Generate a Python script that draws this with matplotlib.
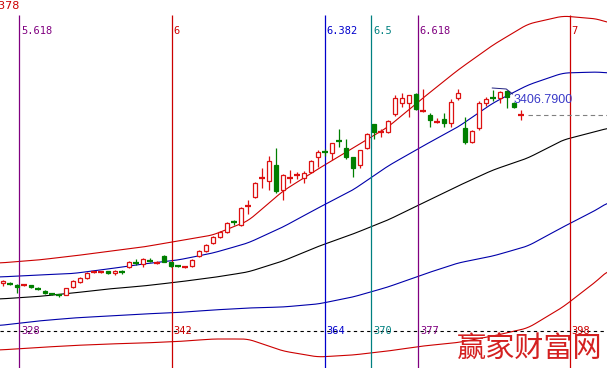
import matplotlib
matplotlib.use("Agg")
from matplotlib import pyplot as plt
import numpy as np

# candle data (chart units, one entry per bar)
opens = [85, 85, 83, 83, 83, 80, 77, 74, 73, 73, 81, 86, 90, 96, 96, 97, 95, 97, 101, 106,
         104, 108, 105, 112, 106, 102, 101, 102, 112, 117, 125, 131, 136, 147, 143, 162, 171, 190, 187, 203,
         178, 189.5, 192.5, 190, 196, 211, 216, 215, 228, 220, 211, 203, 220, 244, 235.5, 236, 254, 265, 265, 274,
         257, 253, 246, 249, 245, 270, 240, 226, 240, 265, 271, 270, 277, 265, 252.5]
highs = [88, 86, 84, 84, 83, 81, 78, 75, 74, 80, 88, 91, 96, 97, 97, 97.5, 98, 98, 107, 109,
         110, 110, 107, 113, 106, 103, 102.5, 109, 118, 124, 132, 137, 146, 148, 161, 168, 186, 200, 212, 220,
         194, 198, 196, 197, 208, 218, 219, 225, 239, 229, 211, 218, 235, 244, 239, 248, 273, 275, 273, 275,
         279, 255, 250, 255, 269, 279, 251, 238, 267, 271, 278, 277, 278, 266, 258]
lows = [82, 83, 75, 82, 80, 78, 74, 73, 71, 73, 80, 85, 89, 95, 95.5, 94.5, 93, 94, 100, 103,
        101, 106, 104, 106, 101, 101, 100, 101, 111, 116, 124, 130, 135, 143, 142, 154, 170, 180, 178, 175,
        168, 185, 189, 185, 195, 201, 212, 208, 221, 209, 191, 200, 219, 229, 231, 235, 252, 261, 251, 258,
        256, 241, 245, 241, 241, 268, 224, 225, 238, 262, 267, 265, 260, 260, 248]
closes = [87, 84, 81, 84, 81, 79, 75, 73.5, 72.5, 80, 87, 90, 95, 96.5, 96.5, 95, 97, 96, 106, 105,
          109, 107, 106, 106, 102, 101.5, 102, 108, 117, 123, 131, 136, 145, 146, 160, 163, 185, 191, 207, 177,
          193, 190, 193, 195, 207, 216, 215.5, 225, 227, 211, 200, 218, 234, 236, 236, 247, 270, 270, 273, 259,
          258, 248, 247, 245, 266, 275, 226, 237, 265, 269, 270, 276, 271, 261, 253]

# envelope lines, sampled every 5 bars
band_x = [-0.5, 5, 10, 15, 20, 25, 30, 35, 40, 45, 50, 55, 60, 65, 70, 75, 80, 85, 86.5]
upper_red = [105, 108, 112, 116.5, 121, 127, 133, 147, 177, 199, 220, 241, 270, 298, 323, 344, 352, 349, 345]
upper_blue = [91, 93, 94.5, 99, 104, 108, 115, 125, 141, 160, 178, 202, 222, 241, 265, 283, 295, 296, 295]
middle = [69, 71.5, 75, 79, 82, 86, 90.5, 96, 107, 121.5, 134, 148, 165, 182, 198, 210, 228, 237, 240]
lower_blue = [42.5, 47, 50, 52, 54, 55.5, 58, 60, 61, 64, 71, 81, 93.5, 105, 112, 122, 141, 159, 166]
lower_red = [18, 20.5, 22.5, 24, 25, 26.5, 29, 29, 17, 11, 13, 17, 22, 25.5, 32, 40, 61, 88, 98]

# time lines
fib_pos = [2.3, 24.1, 46, 52.6, 59.3, 81]
fib_top = ["5.618", "6", "6.382", "6.5", "6.618", "7"]
fib_bottom = ["328", "342", "364", "370", "377", "398"]
fib_colors = ["#800080", "#cc0000", "#0000cc", "#008080", "#800080", "#cc0000"]

last_price = "3406.7900"
RED = "#dd1111"
GREEN = "#007f00"


# soften the corners of the sampled lines
def smooth(xs, ys, win=9):
    fine = np.linspace(xs[0], xs[-1], 400)
    vals = np.interp(fine, xs, ys)
    pad = win // 2
    padded = np.concatenate([np.full(pad, vals[0]), vals, np.full(pad, vals[-1])])
    kernel = np.ones(win) / win
    return fine, np.convolve(padded, kernel, mode="valid")


fig = plt.figure(figsize=(6.07, 3.68), dpi=100)
ax = fig.add_axes([0, 0, 1, 1])
ax.set_xlim(-0.43, 86.29)
ax.set_ylim(0, 368)
ax.axis("off")

# bands
for ys, col in [(upper_red, "#cc0000"), (upper_blue, "#0000aa"), (middle, "black"),
                (lower_blue, "#0000aa"), (lower_red, "#cc0000")]:
    fx, fy = smooth(band_x, ys)
    ax.plot(fx, fy, color=col, lw=0.8, zorder=1)

# vertical time lines with labels
for x, t, b, c in zip(fib_pos, fib_top, fib_bottom, fib_colors):
    ax.vlines(x, 0, 353, color=c, lw=0.9, zorder=1)
    ax.text(x + 0.25, 337, t, color=c, fontsize=7.5, family="DejaVu Sans Mono",
            ha="left", va="center")
    ax.text(x + 0.25, 37, b, color=c, fontsize=7.5, family="DejaVu Sans Mono",
            ha="left", va="center")

ax.axhline(37, color="black", lw=0.8, ls=(0, (3, 3)), zorder=1)

# candles
idx = np.arange(len(opens))
o = np.array(opens)
c = np.array(closes)
h = np.array(highs)
l = np.array(lows)
up = c >= o
cols = np.where(up, RED, GREEN)
ax.vlines(idx, l, h, colors=cols, lw=0.9, zorder=2)
body = np.abs(c - o)
bottom = np.minimum(o, c)
for i in idx:
    if body[i] < 1.2:
        ax.hlines((o[i] + c[i]) / 2, i - 0.38, i + 0.38, color=cols[i], lw=1.6, zorder=3)
    elif up[i]:
        ax.bar(i, body[i], bottom=bottom[i], width=0.7, facecolor="white",
               edgecolor=RED, lw=0.9, zorder=3)
    else:
        ax.bar(i, body[i], bottom=bottom[i], width=0.7, facecolor=GREEN,
               edgecolor=GREEN, lw=0.9, zorder=3)

# small marker near the last bars
ax.plot([69.9, 71.9, 72.8], [280, 279, 274], color="#202080", lw=0.7, zorder=4)

# last price line and label
ax.hlines(closes[-1], len(opens), 86.29, color="gray", lw=0.8, ls=(0, (4, 3)), zorder=1)
ax.text(72.9, 268, last_price, color="#3a3ac8", fontsize=9, family="Liberation Sans",
        ha="left", va="center", zorder=5)

# clipped price tag at top-left
fig.text(19 / 607, 1 - 6 / 368, "2378", color="#cc0000", fontsize=8,
         ha="right", va="center")

# watermark
fig.text(530 / 607, 1 - 349 / 368, "赢家财富网", color="#d42020", fontsize=21,
         family=["Noto Sans CJK SC", "DejaVu Sans"], weight="light",
         ha="center", va="center")

fig.savefig("out.png", dpi=100, facecolor="white")
